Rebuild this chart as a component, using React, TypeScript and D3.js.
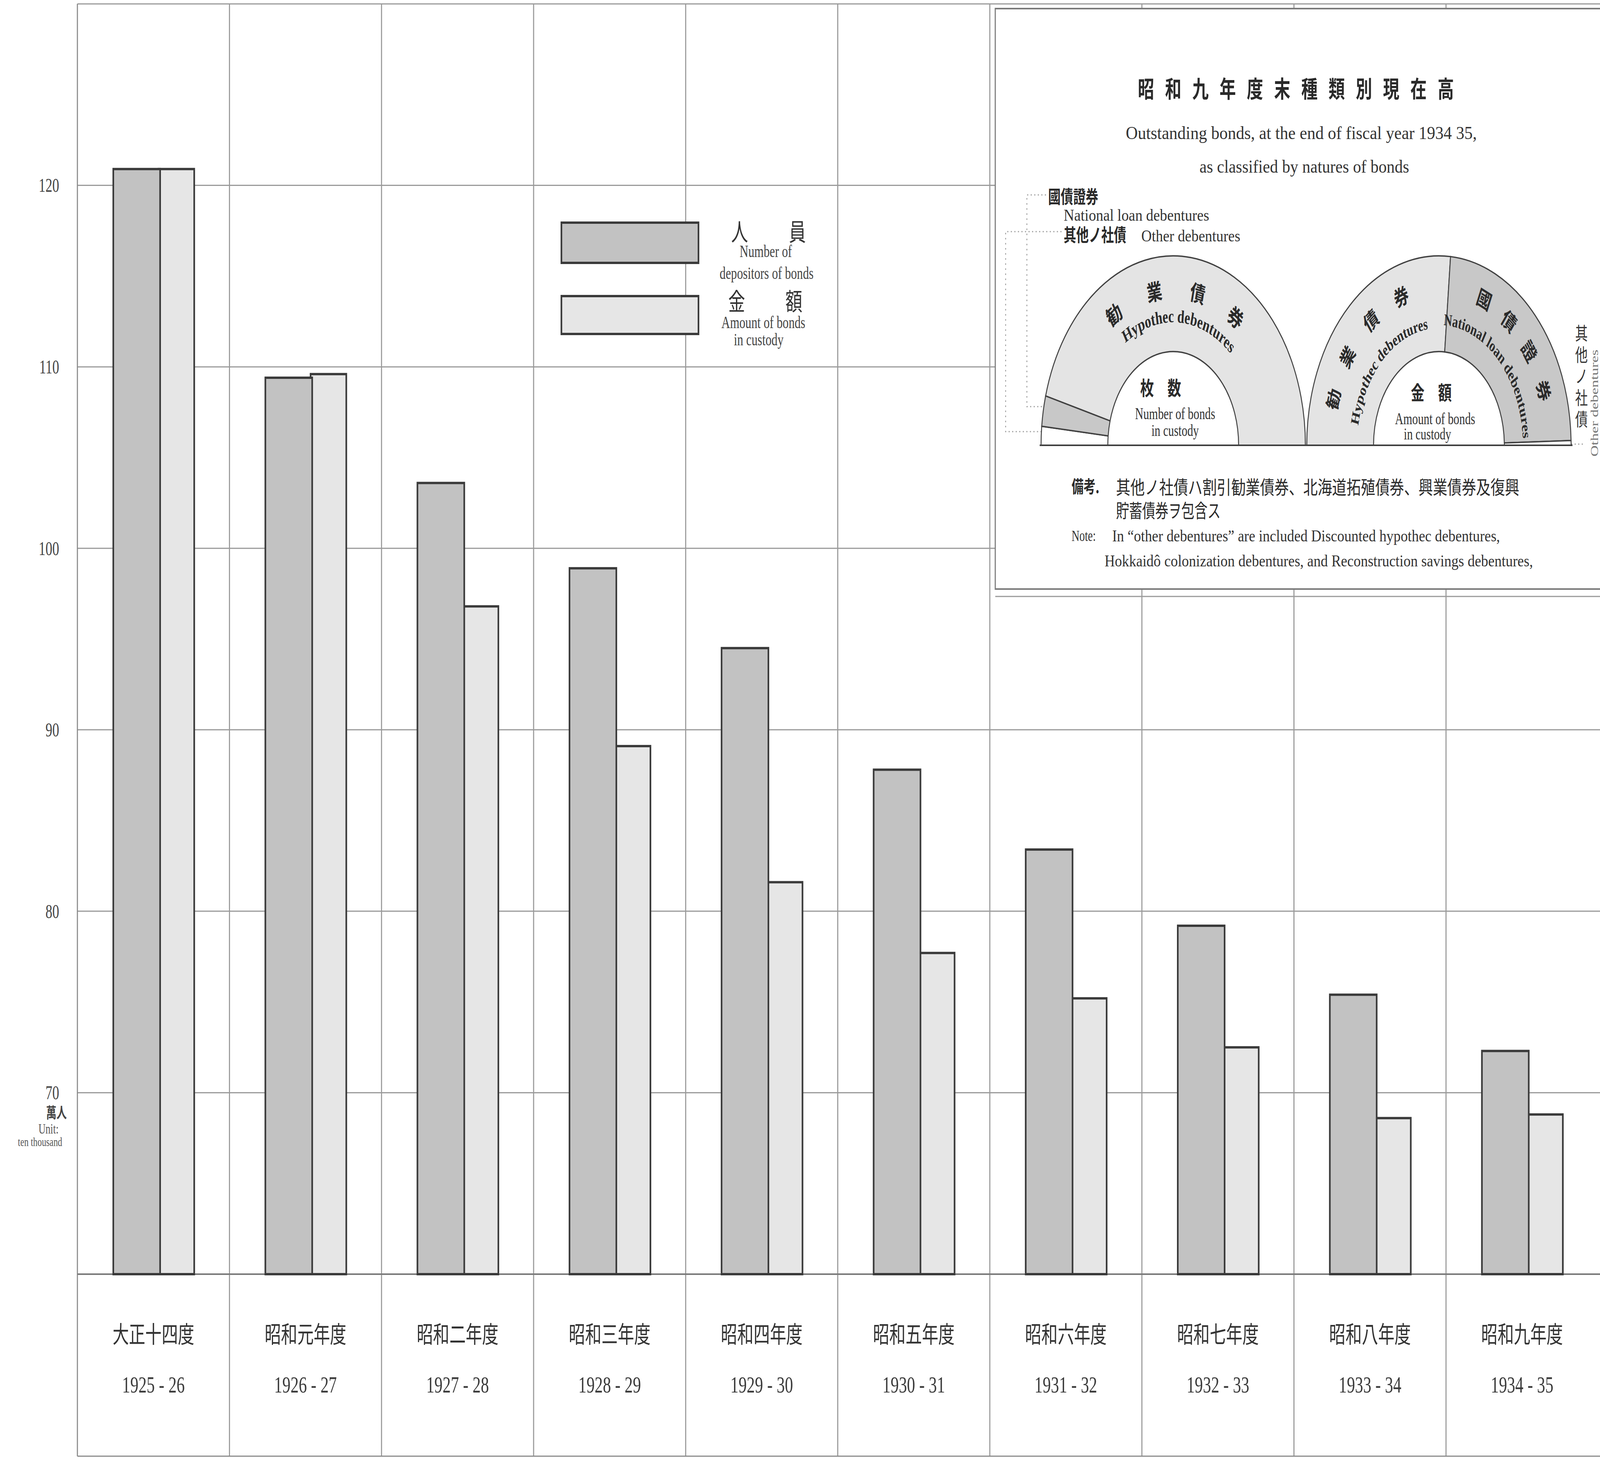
import React from "react";
import * as d3 from "d3";

// ---------------- data ----------------
const categoriesJa = ["大正十四度", "昭和元年度", "昭和二年度", "昭和三年度", "昭和四年度", "昭和五年度", "昭和六年度", "昭和七年度", "昭和八年度", "昭和九年度"];
const categoriesYears = ["1925 - 26", "1926 - 27", "1927 - 28", "1928 - 29", "1929 - 30", "1930 - 31", "1931 - 32", "1932 - 33", "1933 - 34", "1934 - 35"];
const depositors = [120.9, 109.4, 103.6, 98.9, 94.5, 87.8, 83.4, 79.2, 75.4, 72.3];
const amounts = [120.9, 109.6, 96.8, 89.1, 81.6, 77.7, 75.2, 72.5, 68.6, 68.8];
const yTicks = [70, 80, 90, 100, 110, 120];

// inset: shares of bond kinds at end of fiscal 1934-35 (percent of half circle)
const numberKinds = ["other", "national", "hypothec"];
const numberShares = [3.2, 5.2, 91.6];
const amountKinds = ["hypothec", "national", "other"];
const amountShares = [52.8, 46.4, 0.8];

// ---------------- layout / style ----------------
const W = 5871;
const H = 3748;
const PLOT_LEFT = 284;
const COL_W = 558;
const BOTTOM_FRAME = 3728;
const SERIF = "'Liberation Serif', 'Times New Roman', 'DejaVu Serif', serif";
const CJK = "'Noto Sans CJK JP', 'Noto Sans CJK SC', sans-serif";
const GRID = "#9a9a9a";
const OUTLINE = "#3a3a3a";
const DARK_FILL = "#c2c2c2";
const LIGHT_FILL = "#e6e6e6";
const kindFill: Record<string, string> = { hypothec: "#e4e4e4", national: "#c8c8c8", other: "#ffffff" };

function arcD(cx: number, cy: number, r: number, a0: number, a1: number) {
  const t0 = (a0 * Math.PI) / 180;
  const t1 = (a1 * Math.PI) / 180;
  const x0 = cx + r * Math.cos(t0);
  const y0 = cy - r * Math.sin(t0);
  const x1 = cx + r * Math.cos(t1);
  const y1 = cy - r * Math.sin(t1);
  const large = a0 - a1 > 180 ? 1 : 0;
  return `M${x0},${y0} A${r},${r} 0 ${large} 1 ${x1},${y1}`;
}

function ArcChars({ cx, cy, r, chars, angles, size }: { cx: number; cy: number; r: number; chars: string[]; angles: number[]; size: number }) {
  return (
    <g>
      {chars.map((ch, i) => {
        const t = (angles[i] * Math.PI) / 180;
        const x = cx + r * Math.cos(t);
        const y = cy - r * Math.sin(t);
        return (
          <text key={i} x={0} y={0} transform={`translate(${x},${y}) rotate(${90 - angles[i]})`} textAnchor="middle" dominantBaseline="central" fontFamily={CJK} fontWeight={700} fontSize={size} fill="#2a2a2a">
            {ch}
          </text>
        );
      })}
    </g>
  );
}

function Donut({ cx, cy, kinds, shares }: { cx: number; cy: number; kinds: string[]; shares: number[] }) {
  const pie = d3
    .pie<number>()
    .sort(null)
    .startAngle(-Math.PI / 2)
    .endAngle(Math.PI / 2)
    .value((d) => d);
  const arcs = pie(shares);
  const arc = d3.arc<d3.PieArcDatum<number>>().innerRadius(240).outerRadius(485);
  return (
    <g transform={`translate(${cx},${cy})`}>
      {arcs.map((a, i) => (
        <path key={i} d={arc(a) || ""} fill={kindFill[kinds[i]]} stroke="#404040" strokeWidth={3.5} />
      ))}
    </g>
  );
}

export default function App() {
  const x = d3
    .scaleBand<string>()
    .domain(categoriesJa)
    .range([PLOT_LEFT, PLOT_LEFT + COL_W * categoriesJa.length])
    .paddingInner(0)
    .paddingOuter(0);
  const y = d3.scaleLinear().domain([60, 130]).range([3262, 10]);
  const bw = x.bandwidth();
  const darkOff = bw * 0.236;
  const darkW = bw * 0.308;
  const lightOff = darkOff + darkW - 6;
  const lightW = bw * 0.235;

  const boundaries = categoriesJa.map((c) => x(c) as number);

  // inset geometry
  const c1x = 4305;
  const c2x = 5280;
  const cy = 1140;

  return (
    <div style={{ position: "fixed", left: 0, top: 0, width: "100vw", height: "100vh", overflow: "hidden", background: "#fff" }}>
      <svg width="100%" height="100%" viewBox={`0 0 ${W} ${H}`} preserveAspectRatio="none" style={{ display: "block" }}>
        <rect x={0} y={0} width={W} height={H} fill="#ffffff" />

        {/* horizontal gridlines */}
        {[...yTicks, 130].map((t) => (
          <line key={t} x1={PLOT_LEFT} x2={W} y1={y(t)} y2={y(t)} stroke={GRID} strokeWidth={3} />
        ))}
        {/* vertical gridlines through plot and label band */}
        {boundaries.map((bx, i) => (
          <line key={i} x1={bx} x2={bx} y1={y(130)} y2={BOTTOM_FRAME} stroke={i === 0 ? "#8a8a8a" : GRID} strokeWidth={4} />
        ))}
        {/* baseline and bottom frame */}
        <line x1={PLOT_LEFT} x2={W} y1={y(60)} y2={y(60)} stroke="#7a7a7a" strokeWidth={4} />
        <line x1={PLOT_LEFT} x2={W} y1={BOTTOM_FRAME} y2={BOTTOM_FRAME} stroke="#8a8a8a" strokeWidth={3} />

        {/* bars: amount (light) behind, depositors (dark) in front */}
        {categoriesJa.map((c, i) => (
          <rect key={"l" + i} x={(x(c) as number) + lightOff} y={y(amounts[i])} width={lightW} height={y(60) - y(amounts[i])} fill={LIGHT_FILL} stroke={OUTLINE} strokeWidth={6} />
        ))}
        {categoriesJa.map((c, i) => (
          <rect key={"d" + i} x={(x(c) as number) + darkOff} y={y(depositors[i])} width={darkW} height={y(60) - y(depositors[i])} fill={DARK_FILL} stroke={OUTLINE} strokeWidth={6} />
        ))}

        {/* y tick labels */}
        {yTicks.map((t) => (
          <text key={t} x={217} y={y(t)} textAnchor="end" dominantBaseline="central" fontFamily={SERIF} fontSize={50} fill="#444">
            {t}
          </text>
        ))}
        <text x={207} y={2862} textAnchor="middle" fontFamily={CJK} fontWeight={700} fontSize={38} fill="#444">萬人</text>
        <text x={178} y={2902} textAnchor="middle" fontFamily={SERIF} fontSize={36} fill="#555">Unit:</text>
        <text x={147} y={2934} textAnchor="middle" fontFamily={SERIF} fontSize={32} fill="#555">ten thousand</text>

        {/* category labels */}
        {categoriesJa.map((c, i) => (
          <g key={"c" + i}>
            <text x={(x(c) as number) + bw / 2} y={3412} textAnchor="middle" dominantBaseline="central" fontFamily={CJK} fontSize={60} fill="#333">
              {c}
            </text>
            <text x={(x(c) as number) + bw / 2} y={3545} textAnchor="middle" dominantBaseline="central" fontFamily={SERIF} fontSize={60} fill="#3a3a3a">
              {categoriesYears[i]}
            </text>
          </g>
        ))}

        {/* legend */}
        <rect x={2060} y={570} width={503} height={103} fill={DARK_FILL} stroke={OUTLINE} strokeWidth={6} />
        <rect x={2060} y={758} width={503} height={97} fill={LIGHT_FILL} stroke={OUTLINE} strokeWidth={6} />
        <text x={2714} y={590} textAnchor="middle" dominantBaseline="central" fontFamily={CJK} fontSize={62} fill="#333">人</text>
        <text x={2926} y={590} textAnchor="middle" dominantBaseline="central" fontFamily={CJK} fontSize={62} fill="#333">員</text>
        <text x={2810} y={658} textAnchor="middle" fontFamily={SERIF} fontSize={44} fill="#444">Number of</text>
        <text x={2813} y={714} textAnchor="middle" fontFamily={SERIF} fontSize={44} fill="#444">depositors of bonds</text>
        <text x={2703} y={768} textAnchor="middle" dominantBaseline="central" fontFamily={CJK} fontSize={62} fill="#333">金</text>
        <text x={2913} y={768} textAnchor="middle" dominantBaseline="central" fontFamily={CJK} fontSize={62} fill="#333">額</text>
        <text x={2801} y={840} textAnchor="middle" fontFamily={SERIF} fontSize={44} fill="#444">Amount of bonds</text>
        <text x={2784} y={884} textAnchor="middle" fontFamily={SERIF} fontSize={44} fill="#444">in custody</text>

        {/* ---------------- inset ---------------- */}
        <rect x={3652} y={22} width={2400} height={1486} fill="#ffffff" stroke="#7a7a7a" strokeWidth={4} />
        <line x1={3652} x2={W} y1={1527} y2={1527} stroke="#9a9a9a" strokeWidth={3} />

        <text x={4775} y={250} textAnchor="middle" fontFamily={CJK} fontWeight={700} fontSize={60} letterSpacing={40} fill="#2a2a2a">昭和九年度末種類別現在高</text>
        <text x={4775} y={356} textAnchor="middle" fontFamily={SERIF} fontSize={46} textLength={1288} lengthAdjust="spacingAndGlyphs" fill="#333">Outstanding bonds, at the end of fiscal year 1934 35,</text>
        <text x={4786} y={442} textAnchor="middle" fontFamily={SERIF} fontSize={46} textLength={769} lengthAdjust="spacingAndGlyphs" fill="#333">as classified by natures of bonds</text>

        {/* inset legend */}
        <text x={3846} y={520} fontFamily={CJK} fontWeight={700} fontSize={46} fill="#2a2a2a">國債證券</text>
        <text x={3903} y={565} fontFamily={SERIF} fontSize={42} textLength={534} lengthAdjust="spacingAndGlyphs" fill="#333">National loan debentures</text>
        <text x={3903} y={618} fontFamily={CJK} fontWeight={700} fontSize={46} fill="#2a2a2a">其他ノ社債</text>
        <text x={4188} y={618} fontFamily={SERIF} fontSize={42} textLength={363} lengthAdjust="spacingAndGlyphs" fill="#333">Other debentures</text>

        {/* dotted leaders */}
        <path d="M3838,499 H3768 V1041 H3846" fill="none" stroke="#999" strokeWidth={3} strokeDasharray="4 9" />
        <path d="M3895,593 H3690 V1105 H3822" fill="none" stroke="#999" strokeWidth={3} strokeDasharray="4 9" />
        <path d="M5765,1137 H5812" fill="none" stroke="#999" strokeWidth={3} strokeDasharray="4 9" />

        {/* half-ring charts */}
        <Donut cx={c1x} cy={cy} kinds={numberKinds} shares={numberShares} />
        <Donut cx={c2x} cy={cy} kinds={amountKinds} shares={amountShares} />
        <line x1={3815} x2={5770} y1={cy} y2={cy} stroke="#404040" strokeWidth={4} />

        <defs>
          <path id="hypo1" d={arcD(c1x, cy, 315, 140, 32)} />
          <path id="hypo2" d={arcD(c2x, cy, 300, 178, 90)} />
          <path id="nat2" d={arcD(c2x, cy, 308, 90, 0)} />
        </defs>
        <ArcChars cx={c1x} cy={cy} r={402} chars={["勧", "業", "債", "券"]} angles={[123, 100, 77, 55]} size={56} />
        <text fontFamily={SERIF} fontWeight={700} fontSize={46} fill="#2a2a2a">
          <textPath href="#hypo1" startOffset="50%" textAnchor="middle">Hypothec debentures</textPath>
        </text>
        <ArcChars cx={c2x} cy={cy} r={408} chars={["勧", "業", "債", "券"]} angles={[163, 146, 128, 110]} size={54} />
        <text fontFamily={SERIF} fontWeight={700} fontSize={42} fill="#2a2a2a">
          <textPath href="#hypo2" startOffset="50%" textAnchor="middle">Hypothec debentures</textPath>
        </text>
        <ArcChars cx={c2x} cy={cy} r={412} chars={["國", "債", "證", "券"]} angles={[66, 51, 36, 20]} size={54} />
        <text fontFamily={SERIF} fontWeight={700} fontSize={42} fill="#2a2a2a">
          <textPath href="#nat2" startOffset="50%" textAnchor="middle">National loan debentures</textPath>
        </text>

        {/* centre labels */}
        <text x={4284} y={1012} textAnchor="middle" fontFamily={CJK} fontWeight={700} fontSize={50} letterSpacing={50} fill="#2a2a2a">枚数</text>
        <text x={4312} y={1073} textAnchor="middle" fontFamily={SERIF} fontSize={42} fill="#333">Number of bonds</text>
        <text x={4312} y={1116} textAnchor="middle" fontFamily={SERIF} fontSize={42} fill="#333">in custody</text>
        <text x={5277} y={1024} textAnchor="middle" fontFamily={CJK} fontWeight={700} fontSize={50} letterSpacing={50} fill="#2a2a2a">金額</text>
        <text x={5266} y={1086} textAnchor="middle" fontFamily={SERIF} fontSize={42} fill="#333">Amount of bonds</text>
        <text x={5238} y={1125} textAnchor="middle" fontFamily={SERIF} fontSize={42} fill="#333">in custody</text>

        {/* right vertical label */}
        {["其", "他", "ノ", "社", "債"].map((ch, i) => (
          <text key={i} x={5803} y={850 + i * 55} textAnchor="middle" dominantBaseline="central" fontFamily={CJK} fontSize={46} fill="#333">
            {ch}
          </text>
        ))}
        <text x={0} y={0} transform="translate(5850,1032) rotate(-90)" textAnchor="middle" dominantBaseline="central" fontFamily={SERIF} fontSize={40} fill="#777">
          Other debentures
        </text>

        {/* notes */}
        <text x={3932} y={1262} fontFamily={CJK} fontWeight={700} fontSize={44} fill="#2a2a2a">備考.</text>
        <text x={4095} y={1265} fontFamily={CJK} fontSize={48} textLength={1480} lengthAdjust="spacingAndGlyphs" fill="#2a2a2a">其他ノ社債ハ割引勧業債券、北海道拓殖債券、興業債券及復興</text>
        <text x={4095} y={1325} fontFamily={CJK} fontSize={48} fill="#2a2a2a">貯蓄債券ヲ包含ス</text>
        <text x={3932} y={1385} fontFamily={SERIF} fontSize={40} fill="#333">Note:</text>
        <text x={4081} y={1386} fontFamily={SERIF} fontSize={42} textLength={1423} lengthAdjust="spacingAndGlyphs" fill="#333">In “other debentures” are included Discounted hypothec debentures,</text>
        <text x={4053} y={1450} fontFamily={SERIF} fontSize={42} textLength={1572} lengthAdjust="spacingAndGlyphs" fill="#333">Hokkaidô colonization debentures, and Reconstruction savings debentures,</text>
      </svg>
    </div>
  );
}
